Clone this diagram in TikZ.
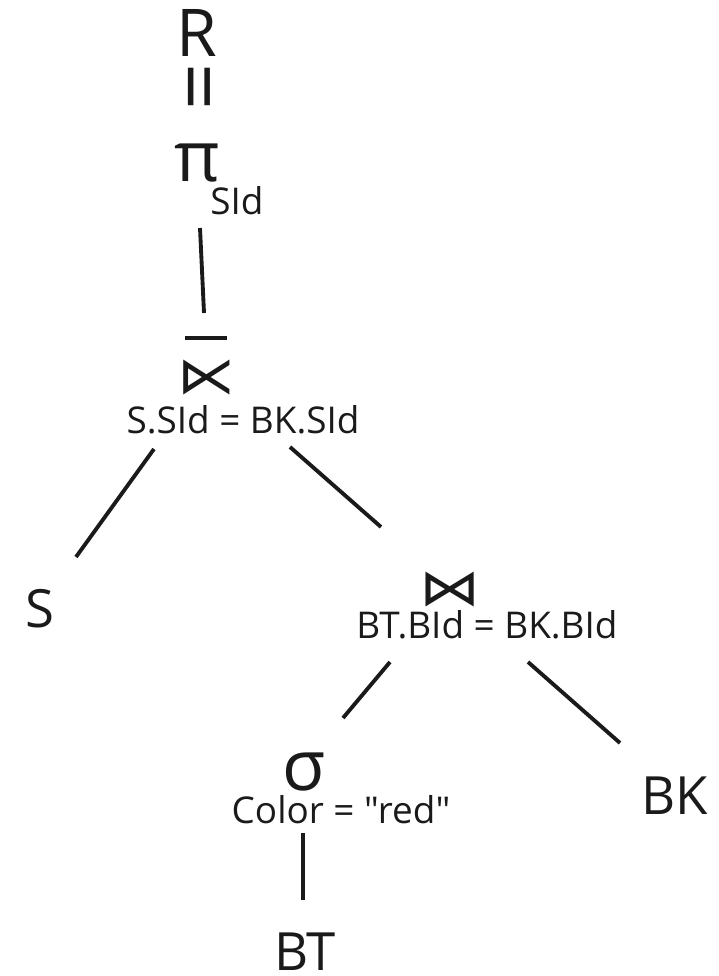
\documentclass[tikz,border=0pt]{standalone}
\usepackage{fontspec}
\setmainfont{Open Sans}[Ligatures=TeXOff]
\newfontfamily\symfont{DejaVu Sans}
\usetikzlibrary{calc}
\definecolor{ink}{HTML}{1A1A1A}

\begin{document}
\begin{tikzpicture}[x=0.02cm, y=-0.02cm,
    rel/.style={inner sep=0pt, text=ink, font=\fontsize{30}{30}\selectfont},
    cond/.style={inner sep=0pt, text=ink, font=\fontsize{21}{21}\selectfont},
    greek/.style={inner sep=0pt, text=ink, font=\fontsize{40}{40}\selectfont},
    op/.style={inner sep=0pt, text=ink, font=\symfont\fontsize{29}{29}\selectfont},
    edge/.style={draw=ink, line width=2.2pt}]
  \useasboundingbox (0,0) rectangle (718,976);

  % result
  \node[rel, font=\fontsize{37.5}{37.5}\selectfont, anchor=base] (r) at (197,57) {R};
  \node[rel, font=\fontsize{47}{47}\selectfont, rotate=90] (eq) at (208,86.5) {=};

  % projection
  \node[greek, anchor=base] (pi) at (197.5,182) {π};
  \node[cond, anchor=base west] (pisub) at (210,215) {SId};

  % anti semijoin
  \node[op, xscale=1.15] (sj) at (207,378) {⋉};
  \draw[edge] ($(sj.center)+(-22,-40)$) -- ($(sj.center)+(20,-40)$);
  \node[cond, anchor=base] (sjcond) at (243,433) {S.SId = BK.SId};

  \node[rel, anchor=base] (s) at (39.5,627) {S};

  % join
  \node[op, xscale=1.2] (j) at (450,590) {⋈};
  \node[cond, anchor=base] (jcond) at (487,638) {BT.BId = BK.BId};

  % selection
  \node[greek, anchor=base] (sel) at (304,790) {σ};
  \node[cond, anchor=base] (selcond) at (341,823) {Color = "red"};

  \node[rel, anchor=base] (bk) at (674.5,814) {BK};
  \node[rel, anchor=base] (bt) at (305,970) {BT};

  % edges
  \draw[edge] ($(pi.base)+(2.5,46)$) -- ($(sj.center)+(-3,-65)$);
  \draw[edge] ($(sjcond.base)+(-89,16)$) -- ($(s.base)+(36.5,-70)$);
  \draw[edge] ($(sjcond.base)+(47,14)$) -- ($(j.center)+(-69,-63)$);
  \draw[edge] ($(jcond.base)+(-97,24)$) -- ($(sel.base)+(39,-72)$);
  \draw[edge] ($(jcond.base)+(41,24)$) -- ($(bk.base)+(-54.5,-71)$);
  \draw[edge] ($(selcond.base)+(-38,10)$) -- ($(bt.base)+(-2,-70)$);
\end{tikzpicture}
\end{document}
